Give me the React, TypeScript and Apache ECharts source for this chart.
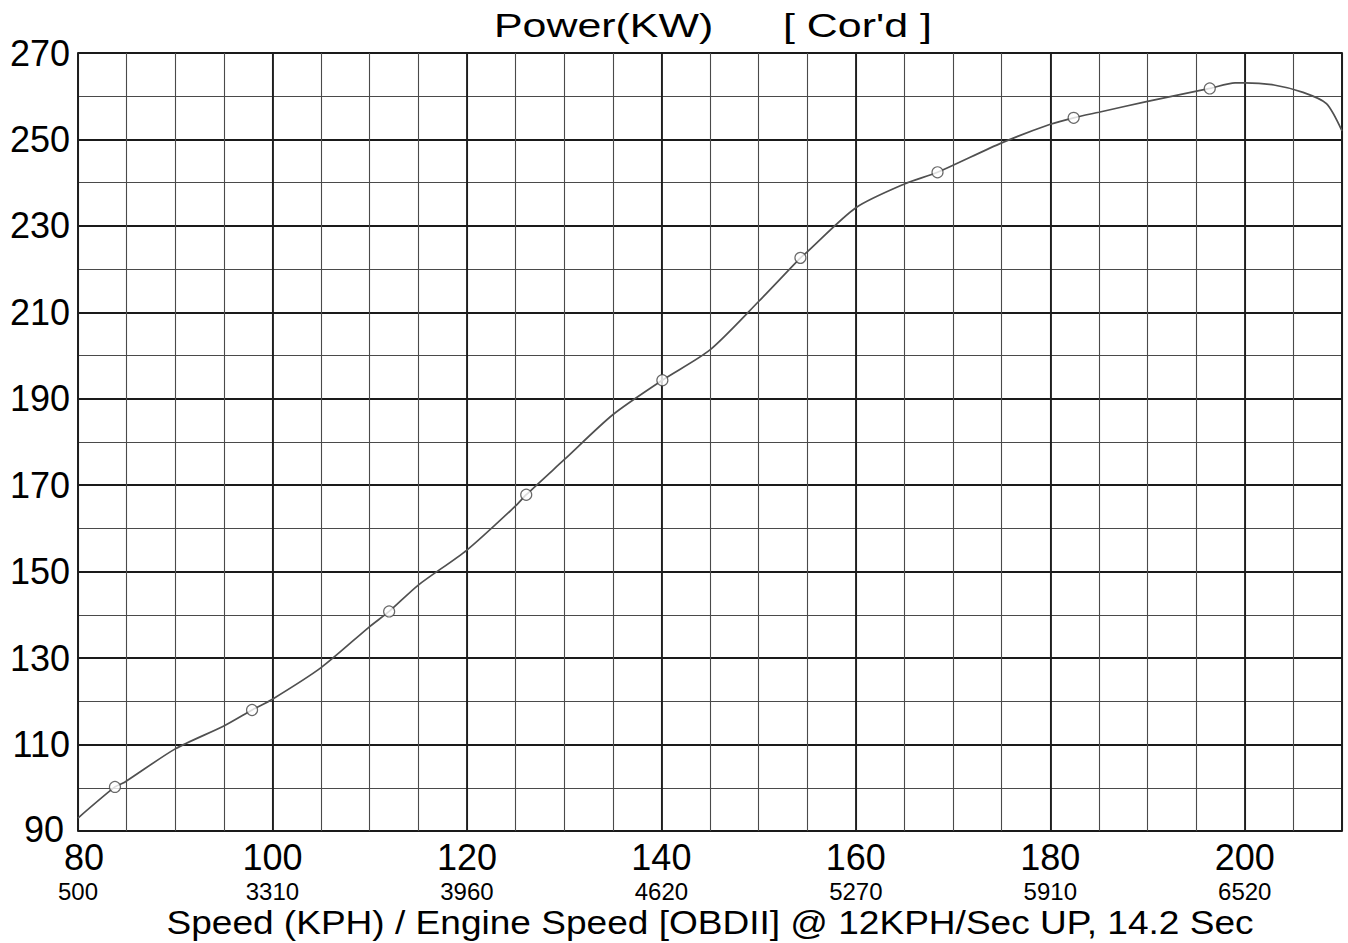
import React, { useEffect, useRef } from "react";
import * as echarts from "echarts";

// Axis tick labels
const speedTicks = [80, 100, 120, 140, 160, 180, 200];
const engineRpm = [500, 3310, 3960, 4620, 5270, 5910, 6520];

// Power curve (KW) vs speed (KPH)
const curveSpeed = [80, 84.8, 90, 95, 100, 105, 110, 115, 120, 125, 130, 135, 145, 150, 155, 160, 165, 175, 180, 185, 190, 199, 200, 203, 206, 208.4, 210];
const curvePower = [93.0, 101.3, 109.0, 114.3, 120.5, 127.8, 137.3, 146.9, 155.0, 165.2, 175.9, 186.3, 201.3, 212.5, 224.0, 234.2, 239.7, 249.2, 253.5, 256.3, 258.8, 263.1, 263.1, 262.6, 260.9, 258.3, 252.0];

// Circle markers on the curve
const markerSpeed = [83.8, 97.9, 112.0, 126.1, 140.1, 154.3, 168.4, 182.4, 196.4];
const markerPower = [100.2, 118.0, 140.8, 167.8, 194.3, 222.6, 242.4, 255.0, 261.8];

const titleLeft = "Power(KW)";
const titleRight = "[ Cor'd ]";
const xAxisName = "Speed (KPH) / Engine Speed [OBDII] @ 12KPH/Sec UP, 14.2 Sec";

const FONT = "'Liberation Sans', Arial, sans-serif";

export default function App() {
  const ref = useRef<HTMLDivElement>(null);

  useEffect(() => {
    if (!ref.current) return;
    const chart = echarts.init(ref.current, null, { renderer: "svg" });

    const linePts: [number, number][] = [];
    curveSpeed.forEach((s, i) => linePts.push([s, curvePower[i]]));
    markerSpeed.forEach((s, i) => linePts.push([s, markerPower[i]]));
    linePts.sort((a, b) => a[0] - b[0]);
    const markerPts = markerSpeed.map((s, i) => [s, markerPower[i]]);

    const majorLine = { color: "#1a1a1a", width: 1.8 };
    const minorLine = { color: "#4a4a4a", width: 1.1 };

    chart.setOption({
      animation: false,
      backgroundColor: "#ffffff",
      textStyle: { fontFamily: FONT },
      grid: {
        left: 78,
        right: 6,
        top: 53,
        bottom: 112,
        show: true,
        borderColor: "#555",
        borderWidth: 2,
        backgroundColor: "transparent",
      },
      xAxis: [
        {
          type: "value",
          min: 80,
          max: 210,
          interval: 5,
          axisLine: { show: false },
          axisTick: { show: false },
          axisLabel: { show: false },
          splitLine: { show: true, lineStyle: minorLine },
        },
        {
          type: "value",
          position: "bottom",
          min: 80,
          max: 210,
          interval: 20,
          axisLine: { show: false },
          axisTick: { show: false },
          splitLine: { show: true, lineStyle: majorLine },
          axisLabel: {
            show: true,
            margin: 6,
            showMaxLabel: false,
            formatter: (v: number) => {
              const i = speedTicks.indexOf(v);
              if (i < 0) return "";
              const a = i === 0 ? "a0" : "a";
              return `{${a}|${v}}\n{b|${engineRpm[i]}}`;
            },
            rich: {
              a: { fontSize: 36, lineHeight: 41, color: "#000", fontFamily: FONT },
              a0: { fontSize: 36, lineHeight: 41, color: "#000", fontFamily: FONT, padding: [0, 0, 0, 12] },
              b: { fontSize: 24, lineHeight: 27, color: "#000", fontFamily: FONT },
            },
          },
        },
      ],
      yAxis: [
        {
          type: "value",
          min: 90,
          max: 270,
          interval: 10,
          axisLine: { show: false },
          axisTick: { show: false },
          axisLabel: { show: false },
          splitLine: { show: true, lineStyle: minorLine },
        },
        {
          type: "value",
          position: "left",
          min: 90,
          max: 270,
          interval: 20,
          axisLine: { show: false },
          axisTick: { show: false },
          splitLine: { show: true, lineStyle: majorLine },
          axisLabel: {
            show: true,
            margin: 8,
            fontSize: 36,
            color: "#000",
            fontFamily: FONT,
            formatter: (v: number) => (v === 90 ? `{low|${v}}` : `{n|${v}}`),
            rich: {
              n: { fontSize: 36, color: "#000", fontFamily: FONT },
              low: { fontSize: 36, color: "#000", fontFamily: FONT, padding: [0, 6, 4, 0] },
            },
          },
        },
      ],
      graphic: [
        {
          type: "text",
          x: 494,
          y: 25,
          scaleX: 1.3,
          style: {
            text: titleLeft,
            fontSize: 33,
            fontFamily: FONT,
            fill: "#000",
            textAlign: "left",
            textVerticalAlign: "middle",
          },
        },
        {
          type: "text",
          x: 783,
          y: 25,
          scaleX: 1.3,
          style: {
            text: titleRight,
            fontSize: 33,
            fontFamily: FONT,
            fill: "#000",
            textAlign: "left",
            textVerticalAlign: "middle",
          },
        },
        {
          type: "text",
          x: 710,
          y: 923,
          scaleX: 1.09,
          style: {
            text: xAxisName,
            fontSize: 34,
            fontFamily: FONT,
            fill: "#000",
            textAlign: "center",
            textVerticalAlign: "middle",
          },
        },
      ],
      series: [
        {
          type: "line",
          xAxisIndex: 1,
          yAxisIndex: 1,
          data: linePts,
          smooth: 0.25,
          showSymbol: false,
          symbol: "none",
          lineStyle: { color: "#505050", width: 1.7 },
          z: 3,
        },
        {
          type: "scatter",
          xAxisIndex: 1,
          yAxisIndex: 1,
          data: markerPts,
          symbol: "circle",
          symbolSize: 11,
          itemStyle: { color: "#ffffff", borderColor: "#444", borderWidth: 1.2 },
          z: 4,
        },
      ],
    });

    return () => chart.dispose();
  }, []);

  return (
    <div
      ref={ref}
      style={{ position: "fixed", left: 0, top: 0, width: 1348, height: 943, background: "#fff" }}
    />
  );
}
